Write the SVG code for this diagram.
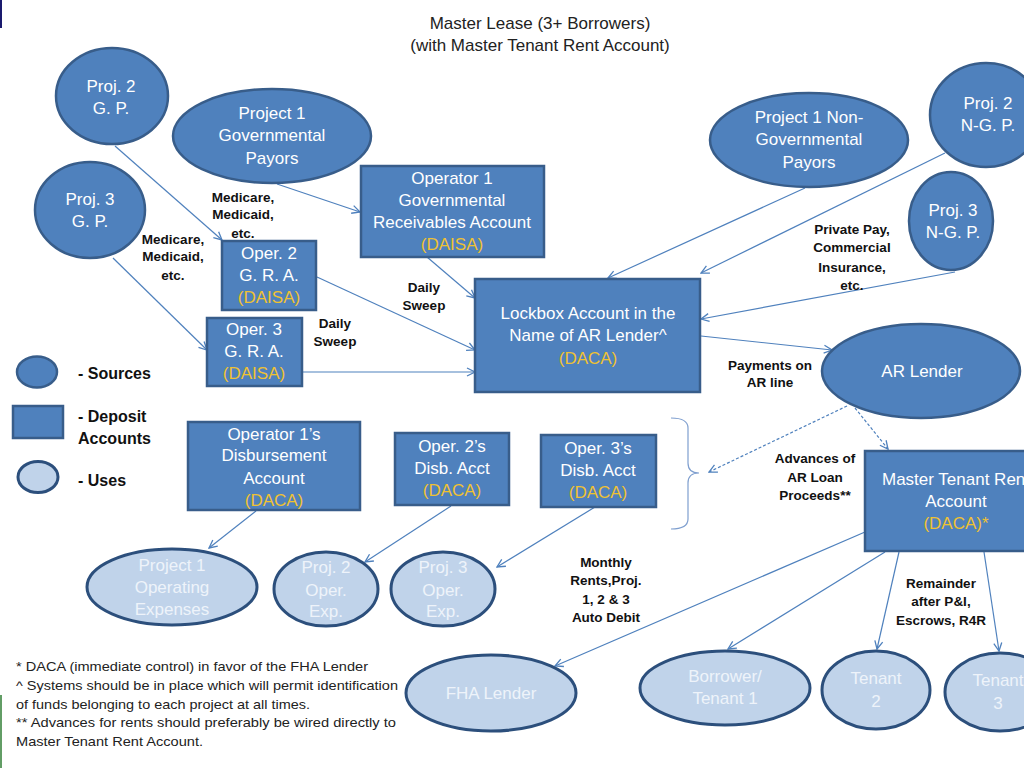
<svg xmlns="http://www.w3.org/2000/svg" width="1024" height="768" viewBox="0 0 1024 768">
<defs>
<linearGradient id="topline" x1="0" y1="0" x2="1" y2="0">
<stop offset="0" stop-color="#1a1a6e"/>
<stop offset="0.5" stop-color="#1a2a6e"/>
<stop offset="1" stop-color="#2e7d32"/>
</linearGradient>
<marker id="arr" viewBox="0 0 10 10" refX="9" refY="5" markerWidth="10" markerHeight="10" markerUnits="userSpaceOnUse" orient="auto">
<path d="M1,1 L9,5 L1,9" fill="none" stroke="#4f81bd" stroke-width="1.3"/>
</marker>
<style>
.src{fill:#4f81bd;stroke:#385d8a;stroke-width:2.5}
.use{fill:#c0d3ea;stroke:#2c4f7c;stroke-width:3}
.nt{font-family:"Liberation Sans",Arial,sans-serif;font-size:17px;fill:#ffffff;text-anchor:middle}
.ut{font-family:"Liberation Sans",Arial,sans-serif;font-size:17px;fill:#eef3fa;text-anchor:middle}
.gold{fill:#efc232}
.lbl{font-family:"Liberation Sans",Arial,sans-serif;font-size:13.5px;font-weight:bold;fill:#111;text-anchor:middle}
.leg{font-family:"Liberation Sans",Arial,sans-serif;font-size:16px;font-weight:bold;fill:#111}
.ttl{font-family:"Liberation Sans",Arial,sans-serif;font-size:17px;fill:#222;text-anchor:middle}
.fn{font-family:"Liberation Sans",Arial,sans-serif;font-size:13.5px;fill:#222}
.c{fill:none;stroke:#4f81bd;stroke-width:1.2;marker-end:url(#arr)}
.d{fill:none;stroke:#4f81bd;stroke-width:1.2;stroke-dasharray:3,2;marker-end:url(#arr)}
</style>
</defs>
<rect x="0" y="0" width="1024" height="768" fill="#ffffff"/>
<line x1="0" y1="1" x2="1024" y2="1" stroke="url(#topline)" stroke-width="2"/>
<line x1="1" y1="0" x2="1" y2="28" stroke="#1a1a6e" stroke-width="2"/>
<line x1="1" y1="695" x2="1" y2="768" stroke="#2e7d32" stroke-width="1.5"/>

<g id="title">
<text class="ttl" x="540" y="29">Master Lease (3+ Borrowers)</text>
<text class="ttl" x="540" y="51">(with Master Tenant Rent Account)</text>
</g>

<g id="connectors">
<line class="c" x1="115" y1="146" x2="222" y2="240"/>
<line class="c" x1="277" y1="184" x2="360" y2="212"/>
<line class="c" x1="113" y1="258" x2="207" y2="350"/>
<line class="c" x1="427" y1="257" x2="475" y2="298"/>
<line class="c" x1="317" y1="277" x2="475" y2="350"/>
<line class="c" x1="302" y1="372" x2="475" y2="372"/>
<line class="c" x1="805" y1="188" x2="608" y2="278"/>
<line class="c" x1="945" y1="153" x2="701" y2="273"/>
<line class="c" x1="955" y1="272" x2="701" y2="319"/>
<line class="c" x1="701" y1="336" x2="832" y2="350"/>
<line class="d" x1="855" y1="408" x2="888" y2="449"/>
<line class="d" x1="847" y1="406" x2="709" y2="472"/>
<line class="c" x1="256" y1="511" x2="209" y2="548"/>
<line class="c" x1="451" y1="506" x2="365" y2="562"/>
<line class="c" x1="595" y1="507" x2="497" y2="567"/>
<line class="c" x1="865" y1="532" x2="555" y2="666"/>
<line class="c" x1="885" y1="552" x2="728" y2="649"/>
<line class="c" x1="899" y1="552" x2="877" y2="649"/>
<line class="c" x1="984" y1="552" x2="999" y2="651"/>
<path d="M671,418 Q688,418 688,428 L688,463 Q688,473 699,473 Q688,473 688,483 L688,519 Q688,529 671,529" fill="none" stroke="#7f9fcf" stroke-width="1.2"/>
</g>

<g id="proj2-gp">
<ellipse class="src" cx="112" cy="96" rx="56" ry="48"/>
<text class="nt" x="111" y="92">Proj. 2</text>
<text class="nt" x="111" y="114">G. P.</text>
</g>
<g id="proj1-gov-payors">
<ellipse class="src" cx="272" cy="136" rx="99" ry="47"/>
<text class="nt" x="272" y="119">Project 1</text>
<text class="nt" x="272" y="141">Governmental</text>
<text class="nt" x="272" y="164">Payors</text>
</g>
<g id="proj3-gp">
<ellipse class="src" cx="90" cy="210" rx="55" ry="48"/>
<text class="nt" x="90" y="205">Proj. 3</text>
<text class="nt" x="90" y="227">G. P.</text>
</g>
<g id="operator1-gra">
<rect class="src" x="361" y="166" width="183" height="91"/>
<text class="nt" x="452" y="184">Operator  1</text>
<text class="nt" x="452" y="206">Governmental</text>
<text class="nt" x="452" y="228">Receivables Account</text>
<text class="nt gold" x="452" y="250">(DAISA)</text>
</g>
<g id="oper2-gra">
<rect class="src" x="222" y="241" width="94" height="69"/>
<text class="nt" x="269" y="259">Oper. 2</text>
<text class="nt" x="269" y="281">G. R. A.</text>
<text class="nt gold" x="269" y="303">(DAISA)</text>
</g>
<g id="oper3-gra">
<rect class="src" x="207" y="318" width="95" height="68"/>
<text class="nt" x="254" y="335">Oper. 3</text>
<text class="nt" x="254" y="357">G. R. A.</text>
<text class="nt gold" x="254" y="379">(DAISA)</text>
</g>
<g id="lockbox">
<rect class="src" x="475" y="279" width="225" height="113"/>
<text class="nt" x="588" y="319">Lockbox Account in the</text>
<text class="nt" x="588" y="341">Name of AR Lender^</text>
<text class="nt gold" x="588" y="364">(DACA)</text>
</g>
<g id="proj1-nongov-payors">
<ellipse class="src" cx="809" cy="140" rx="99" ry="47"/>
<text class="nt" x="809" y="123">Project 1 Non-</text>
<text class="nt" x="809" y="145">Governmental</text>
<text class="nt" x="809" y="168">Payors</text>
</g>
<g id="proj2-ngp">
<ellipse class="src" cx="986" cy="115" rx="56" ry="52"/>
<text class="nt" x="988" y="109">Proj. 2</text>
<text class="nt" x="988" y="131">N-G. P.</text>
</g>
<g id="proj3-ngp">
<ellipse class="src" cx="951" cy="221" rx="42" ry="49"/>
<text class="nt" x="953" y="216">Proj. 3</text>
<text class="nt" x="953" y="238">N-G. P.</text>
</g>
<g id="ar-lender">
<ellipse class="src" cx="921" cy="371" rx="99" ry="47"/>
<text class="nt" x="922" y="377">AR Lender</text>
</g>
<g id="operator1-disb">
<rect class="src" x="188" y="422" width="172" height="88"/>
<text class="nt" x="274" y="440">Operator 1’s</text>
<text class="nt" x="274" y="461">Disbursement</text>
<text class="nt" x="274" y="484">Account</text>
<text class="nt gold" x="274" y="506">(DACA)</text>
</g>
<g id="oper2-disb">
<rect class="src" x="395" y="433" width="114" height="72"/>
<text class="nt" x="452" y="452">Oper. 2’s</text>
<text class="nt" x="452" y="474">Disb. Acct</text>
<text class="nt gold" x="452" y="496">(DACA)</text>
</g>
<g id="oper3-disb">
<rect class="src" x="541" y="435" width="115" height="72"/>
<text class="nt" x="598" y="454">Oper. 3’s</text>
<text class="nt" x="598" y="476">Disb. Acct</text>
<text class="nt gold" x="598" y="498">(DACA)</text>
</g>
<g id="master-tenant-rent">
<rect class="src" x="865" y="451" width="182" height="100"/>
<text class="nt" x="956" y="485">Master Tenant Rent</text>
<text class="nt" x="956" y="507">Account</text>
<text class="nt gold" x="956" y="529">(DACA)*</text>
</g>
<g id="proj1-opex">
<ellipse class="use" cx="172" cy="587" rx="85" ry="38"/>
<text class="ut" x="172" y="571">Project 1</text>
<text class="ut" x="172" y="593">Operating</text>
<text class="ut" x="172" y="615">Expenses</text>
</g>
<g id="proj2-opex">
<ellipse class="use" cx="326" cy="589" rx="52" ry="37"/>
<text class="ut" x="326" y="573">Proj. 2</text>
<text class="ut" x="326" y="596">Oper.</text>
<text class="ut" x="326" y="617">Exp.</text>
</g>
<g id="proj3-opex">
<ellipse class="use" cx="443" cy="589" rx="52" ry="37"/>
<text class="ut" x="443" y="573">Proj. 3</text>
<text class="ut" x="443" y="596">Oper.</text>
<text class="ut" x="443" y="617">Exp.</text>
</g>
<g id="fha-lender">
<ellipse class="use" cx="491" cy="693" rx="85" ry="38"/>
<text class="ut" x="491" y="699">FHA Lender</text>
</g>
<g id="borrower-tenant1">
<ellipse class="use" cx="725" cy="688" rx="85" ry="37"/>
<text class="ut" x="725" y="682">Borrower/</text>
<text class="ut" x="725" y="704">Tenant 1</text>
</g>
<g id="tenant2">
<ellipse class="use" cx="876" cy="690" rx="54" ry="39"/>
<text class="ut" x="876" y="684">Tenant</text>
<text class="ut" x="876" y="707">2</text>
</g>
<g id="tenant3">
<ellipse class="use" cx="1000" cy="692" rx="55" ry="39"/>
<text class="ut" x="998" y="686">Tenant</text>
<text class="ut" x="998" y="709">3</text>
</g>

<g id="labels">
<text class="lbl" x="243" y="201.5">Medicare,</text>
<text class="lbl" x="243" y="218.5">Medicaid,</text>
<text class="lbl" x="243" y="237.5">etc.</text>
<text class="lbl" x="173" y="243.5">Medicare,</text>
<text class="lbl" x="173" y="260.5">Medicaid,</text>
<text class="lbl" x="173" y="279.5">etc.</text>
<text class="lbl" x="424" y="291.5">Daily</text>
<text class="lbl" x="424" y="309.5">Sweep</text>
<text class="lbl" x="335" y="327.5">Daily</text>
<text class="lbl" x="335" y="345.5">Sweep</text>
<text class="lbl" x="852" y="233.5">Private Pay,</text>
<text class="lbl" x="852" y="251.5">Commercial</text>
<text class="lbl" x="852" y="271.5">Insurance,</text>
<text class="lbl" x="852" y="289.5">etc.</text>
<text class="lbl" x="770" y="369.5">Payments on</text>
<text class="lbl" x="770" y="386.5">AR line</text>
<text class="lbl" x="815" y="462.5">Advances of</text>
<text class="lbl" x="815" y="481.5">AR Loan</text>
<text class="lbl" x="815" y="499.5">Proceeds**</text>
<text class="lbl" x="606" y="566.5">Monthly</text>
<text class="lbl" x="606" y="584.5">Rents,Proj.</text>
<text class="lbl" x="606" y="603.5">1, 2 &amp; 3</text>
<text class="lbl" x="606" y="621.5">Auto Debit</text>
<text class="lbl" x="941" y="587.5">Remainder</text>
<text class="lbl" x="941" y="605.5">after P&amp;I,</text>
<text class="lbl" x="941" y="624.5">Escrows, R4R</text>
</g>

<g id="legend">
<ellipse class="src" cx="37" cy="372" rx="20" ry="15.5"/>
<text class="leg" x="78" y="379">- Sources</text>
<rect class="src" x="13" y="406" width="50" height="32"/>
<text class="leg" x="78" y="422">- Deposit</text>
<text class="leg" x="78" y="444">Accounts</text>
<ellipse class="use" cx="38" cy="477" rx="20" ry="15.5" stroke-width="2.5"/>
<text class="leg" x="78" y="486">- Uses</text>
</g>

<g id="footnotes">
<text class="fn" x="16" y="670.5" textLength="352" lengthAdjust="spacingAndGlyphs">* DACA (immediate control)  in favor of the FHA Lender</text>
<text class="fn" x="16" y="689.5" textLength="382" lengthAdjust="spacingAndGlyphs">^ Systems should be in place which will permit identification</text>
<text class="fn" x="16" y="708.5" textLength="294" lengthAdjust="spacingAndGlyphs">of funds belonging to each project at all times.</text>
<text class="fn" x="16" y="726.5" textLength="380" lengthAdjust="spacingAndGlyphs">**  Advances for rents should preferably be wired directly to</text>
<text class="fn" x="16" y="745.5" textLength="187" lengthAdjust="spacingAndGlyphs">Master Tenant Rent Account.</text>
</g>
</svg>
